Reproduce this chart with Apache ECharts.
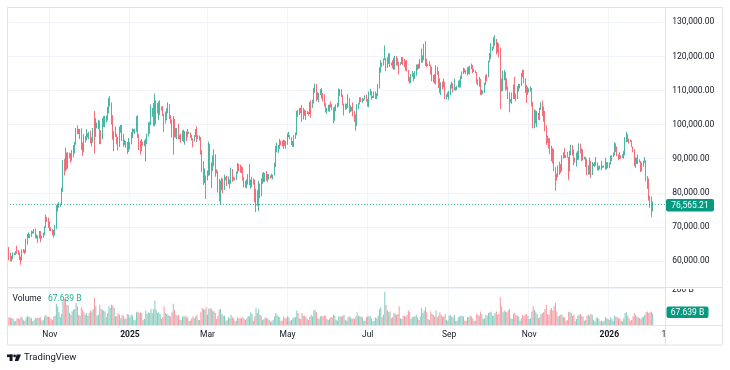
<!DOCTYPE html>
<html><head><meta charset="utf-8">
<script src="https://cdn.jsdelivr.net/npm/echarts@6/dist/echarts.min.js"></script>
<style>html,body{margin:0;padding:0;background:#fff}#c{width:730px;height:370px}</style>
</head><body><div id="c"></div>
<script>
// ---- data (prices in thousands USD, volume in billions) ----
const FIRST_DAY = '2024-09-30';
const FIRST_OPEN_K = 65.6;
const FUTURE_DAYS = 9;
const closeK = [
63.3,
60.8,60.6,60.8,62.1,62.1,62.8,62.2,62.1,60.6,60.3,62.5,63.2,62.9,66.0,67.0,67.6,67.4,68.4,68.4,69.0,67.4,67.4,66.7,68.2,66.6,67.0,67.9,69.9,72.7,72.3,70.2,
69.5,69.3,68.7,67.8,69.4,75.6,76.0,76.5,76.7,80.4,88.7,88.0,90.5,87.3,91.1,90.6,89.8,90.5,92.3,94.3,98.9,98.4,97.8,98.0,93.0,91.9,95.9,95.6,97.5,96.4,
97.2,95.8,96.0,98.8,97.0,99.9,99.9,101.2,97.4,96.7,101.2,100.0,101.4,101.4,104.3,106.0,106.1,100.1,97.5,97.7,97.2,95.1,94.7,98.7,99.4,95.8,94.2,95.1,93.7,92.7,93.4,
94.4,96.9,98.1,98.2,98.3,102.1,96.9,95.0,92.5,94.7,94.5,94.5,94.5,96.5,100.5,99.9,104.1,104.4,101.1,102.0,106.1,103.7,103.9,104.8,104.7,102.6,102.1,101.3,103.7,104.7,102.4,
100.6,97.7,101.4,97.9,96.6,96.6,96.5,96.5,96.1,97.4,95.8,97.9,96.6,97.5,97.6,96.2,95.8,95.5,96.6,98.3,96.1,96.6,96.3,91.5,88.7,84.3,84.7,84.4,
86.0,94.3,86.1,87.2,90.6,89.9,86.7,86.2,80.7,78.5,82.9,83.7,81.0,84.0,84.3,82.6,84.0,82.7,86.8,84.2,84.1,83.8,86.1,87.5,87.4,86.9,87.2,84.4,82.6,82.3,82.5,
85.2,82.5,83.1,83.8,83.5,78.2,79.2,76.3,82.6,79.6,83.4,85.3,83.7,84.5,83.6,84.0,84.9,84.5,85.0,85.1,87.5,93.4,93.7,93.9,94.7,94.6,93.7,95.0,94.3,94.2,
96.5,96.9,95.9,94.3,94.7,96.8,97.0,103.2,102.9,104.6,104.1,102.8,104.1,103.5,103.7,103.5,103.2,106.5,105.6,106.8,109.6,111.7,107.3,107.8,109.0,109.4,108.9,107.8,105.6,103.9,104.6,
105.7,105.8,105.4,104.7,101.6,104.3,105.6,105.7,110.3,110.3,108.7,105.9,106.1,105.4,105.6,106.8,104.6,104.9,104.7,103.3,102.1,100.9,105.6,106.0,107.3,106.9,107.1,107.3,108.4,107.1,
105.7,108.8,109.6,108.0,108.2,109.2,108.3,108.9,111.3,115.9,117.5,117.4,119.1,119.8,117.7,118.7,119.3,117.9,117.9,117.3,117.4,120.0,118.8,118.4,117.6,117.9,119.4,118.0,117.8,117.8,115.7,
113.3,112.5,114.2,115.0,114.1,115.0,117.5,116.7,116.5,119.3,118.7,120.2,123.3,118.4,117.4,117.5,117.4,116.3,112.9,114.3,112.5,116.9,115.4,113.5,110.1,111.8,111.3,112.6,108.4,108.8,108.2,
109.2,111.2,111.7,110.7,110.7,110.2,111.1,112.0,111.5,113.9,115.5,116.1,115.9,115.3,115.4,116.8,116.5,117.1,115.7,115.7,115.2,112.7,112.0,113.3,109.0,109.7,109.7,112.1,114.4,114.0,
118.6,120.6,122.3,122.4,123.5,124.8,121.4,123.3,121.7,113.2,110.7,115.2,115.3,113.0,110.8,108.2,106.5,107.2,108.6,110.6,108.5,107.6,110.1,111.0,111.6,114.5,114.1,112.9,110.0,108.3,109.6,
110.1,110.6,106.5,101.5,103.9,101.3,103.4,102.3,104.7,106.0,103.0,101.6,99.7,94.5,95.6,94.2,92.2,92.9,91.5,86.6,85.1,84.7,86.8,88.3,87.4,90.5,91.3,90.9,90.8,90.4,
86.3,91.3,93.5,92.1,89.4,89.3,90.4,90.6,92.7,92.0,92.5,90.3,90.3,88.2,86.4,87.8,86.2,85.5,88.1,88.3,88.6,88.6,87.5,87.6,87.2,87.3,87.8,87.8,87.1,88.4,87.5,
88.7,89.9,90.6,91.4,93.9,93.7,91.3,91.0,90.6,90.5,90.8,91.2,95.4,97.0,95.6,95.5,95.1,93.6,92.6,88.3,89.4,89.6,89.5,89.2,86.6,88.3,89.2,89.3,84.6,84.1,78.7,
77.6,74.9,76.56521
];
const highK = [
65.7,
64.1,62.4,61.5,62.5,62.4,62.9,64.5,63.2,62.5,61.3,63.4,63.5,63.3,66.5,67.9,68.4,67.9,68.9,68.7,69.4,69.5,67.8,67.5,68.8,68.8,67.4,68.3,70.2,73.6,72.9,72.7,
71.6,69.9,69.4,69.1,70.5,76.4,76.9,77.2,76.9,81.5,89.6,89.9,93.3,91.8,91.9,91.8,91.6,92.6,94.0,94.9,99.0,99.8,98.8,98.7,98.9,94.7,97.2,96.6,98.7,97.5,
97.9,98.2,96.3,99.0,104.0,101.9,100.6,101.4,101.2,98.3,101.9,102.5,102.6,102.6,105.2,107.8,108.3,106.5,102.8,98.1,99.5,97.3,96.4,99.4,99.9,99.9,97.3,95.6,95.2,94.9,96.1,
94.9,97.8,98.9,98.7,98.8,102.5,102.7,97.2,95.3,95.8,95.0,95.4,95.9,97.4,100.7,100.8,105.9,104.9,106.3,109.1,107.1,106.3,106.8,107.1,105.3,105.5,103.2,103.8,104.8,106.5,106.0,
102.8,101.5,102.5,101.7,99.0,99.0,100.2,96.9,97.3,98.3,98.5,98.1,98.0,98.7,97.9,97.7,97.0,96.0,96.9,98.7,99.5,96.9,96.8,96.4,92.5,89.3,87.1,85.1,
86.5,95.0,94.4,88.9,91.0,92.8,91.3,86.9,86.5,84.1,83.6,84.4,84.2,85.3,84.7,85.0,84.8,83.9,87.4,87.0,84.7,84.5,86.2,88.7,88.5,88.3,87.8,87.5,84.6,83.5,84.0,
85.5,88.5,83.9,84.7,84.2,83.8,81.2,80.8,83.5,82.7,84.2,85.8,86.1,85.8,86.4,85.5,85.5,85.1,85.6,85.3,88.8,93.8,94.7,94.0,95.8,95.3,95.3,95.6,95.4,95.2,
97.4,97.9,96.9,96.3,95.2,96.9,97.7,104.0,104.3,104.9,104.9,105.8,104.9,104.4,104.1,104.0,103.7,106.6,107.1,107.3,110.8,112.0,111.9,109.5,109.3,110.4,110.7,109.3,108.9,106.3,104.9,
105.8,105.9,106.8,106.0,105.0,105.3,105.9,106.4,110.6,110.4,110.4,108.8,106.2,106.2,106.1,108.9,107.8,105.6,105.2,106.5,104.0,103.0,106.0,106.3,108.0,108.0,107.8,107.6,108.6,108.8,
107.5,109.7,110.5,109.8,108.4,109.7,109.7,109.2,111.9,116.8,118.9,118.2,119.4,123.2,119.5,119.8,120.9,120.9,118.2,118.9,119.6,120.2,120.1,119.5,118.4,118.3,119.8,119.8,119.3,118.8,118.9,
116.0,114.0,114.8,115.7,115.1,115.7,117.6,117.7,117.9,119.3,122.3,120.3,123.7,124.5,119.3,117.9,118.6,117.6,117.0,114.6,114.8,117.4,117.0,115.7,113.6,112.4,112.6,113.5,112.6,108.9,109.5,
109.9,111.8,112.6,112.2,113.4,111.0,111.3,112.9,113.2,114.3,115.6,116.7,116.4,116.0,116.8,117.0,117.3,117.9,117.5,116.3,115.9,115.4,113.3,114.0,113.4,110.3,110.0,112.3,114.5,114.8,
118.7,121.0,123.9,122.8,125.6,126.2,125.1,124.2,123.8,122.6,113.5,115.8,116.0,115.4,113.6,111.2,109.5,107.5,109.4,111.7,114.0,109.1,111.3,112.0,111.9,115.2,116.1,116.0,113.6,111.6,111.1,
110.6,111.2,110.8,106.6,104.5,104.2,104.0,103.4,105.0,106.6,107.0,105.3,104.0,99.8,96.8,96.0,96.0,93.8,93.1,92.8,87.5,85.6,88.0,89.1,88.4,91.0,91.9,93.1,91.1,92.0,
90.5,92.3,94.1,94.0,92.7,90.3,91.8,92.3,94.5,94.4,93.0,92.7,90.6,90.5,90.0,88.1,90.3,89.4,89.0,88.6,89.0,90.5,88.9,87.9,88.0,89.4,87.9,88.0,90.3,89.0,89.0,
88.9,90.9,91.0,91.8,94.8,94.5,93.6,91.3,91.9,91.0,91.3,92.3,96.3,97.9,97.2,95.9,95.6,95.4,93.6,92.8,90.4,90.3,91.2,89.8,89.3,88.9,89.4,90.5,89.5,84.9,84.2,
79.2,78.9,77.5
];
const lowK = [
62.9,
60.2,59.9,59.8,60.5,61.7,61.8,62.1,61.8,60.3,58.9,60.1,62.4,62.0,62.4,64.8,66.7,66.7,67.1,68.0,68.1,66.6,66.6,65.3,66.6,65.5,66.6,66.8,67.5,69.7,71.4,69.7,
68.8,68.8,67.5,66.8,67.5,69.4,74.5,75.6,75.9,76.5,80.2,85.1,86.3,86.7,87.1,90.1,88.8,89.4,90.4,91.5,94.1,97.2,97.2,95.8,92.6,90.8,91.9,94.7,95.4,96.2,
95.7,94.5,93.6,94.7,91.5,96.4,98.9,98.7,94.2,94.3,95.7,99.3,99.2,100.6,101.2,103.3,105.3,100.0,95.6,92.2,96.4,94.2,92.4,93.4,97.6,95.2,93.5,94.0,93.2,91.4,92.0,
92.8,94.2,96.1,97.7,97.3,97.9,96.1,92.5,91.2,92.2,93.8,93.7,89.2,94.3,96.5,97.3,99.9,102.3,99.6,99.5,100.1,103.3,101.3,102.8,104.1,102.5,97.8,100.3,101.3,103.3,101.6,
100.3,96.2,91.2,96.2,96.2,95.7,95.7,95.7,94.7,95.2,94.9,94.1,95.2,96.3,97.2,96.1,95.3,93.4,95.0,96.4,94.9,95.8,95.3,91.2,86.1,82.3,82.8,78.2,
83.7,85.0,85.1,81.4,86.4,87.8,84.7,85.7,80.1,77.5,76.6,80.8,79.9,80.8,83.7,82.0,82.5,81.2,82.6,83.2,83.6,83.7,83.8,85.6,86.3,85.9,85.8,83.6,81.6,81.5,81.3,
82.4,82.3,81.2,81.7,82.4,77.2,74.4,76.2,74.6,78.4,79.0,82.6,83.1,83.2,83.6,83.1,83.9,84.1,84.4,83.9,85.1,87.5,91.9,91.7,92.9,93.9,93.6,92.9,93.8,92.9,
94.1,96.3,95.7,94.0,93.5,93.4,95.8,96.9,102.3,102.8,103.3,100.8,101.5,102.6,101.4,103.1,102.6,103.1,102.0,104.9,106.2,109.3,106.8,107.3,106.6,108.7,107.6,106.8,105.3,103.6,103.1,
103.9,103.7,105.0,104.2,100.4,101.1,103.9,105.0,105.3,108.4,108.1,105.7,102.7,104.3,104.5,104.9,103.4,103.6,103.9,102.4,100.8,98.2,99.6,104.6,105.9,106.6,106.4,106.9,107.3,106.7,
105.3,105.1,108.6,107.3,107.8,107.8,107.5,107.5,108.3,110.6,115.2,116.9,117.3,118.9,115.7,116.6,117.8,116.9,117.3,116.5,116.1,116.1,117.3,117.3,114.7,117.4,117.8,117.4,116.9,115.8,115.6,
112.7,112.0,112.2,114.0,112.7,113.4,114.3,115.9,116.3,116.5,118.1,118.2,118.9,117.2,116.8,117.2,117.2,114.7,112.7,112.4,112.0,111.7,114.6,110.7,109.3,108.7,110.3,110.9,107.5,107.4,108.1,
107.3,108.6,110.6,109.4,110.0,110.0,110.1,110.9,110.8,110.9,113.4,114.8,115.3,114.8,114.4,114.8,114.7,116.2,115.1,115.4,115.0,112.0,111.5,111.1,108.7,108.6,109.0,109.3,111.6,112.7,
113.9,118.3,119.3,121.6,122.2,123.1,120.6,121.1,119.7,104.6,109.7,109.8,113.0,110.0,110.2,107.5,103.6,106.4,106.1,107.5,107.5,106.8,107.5,109.7,110.6,111.3,113.9,112.1,109.3,106.3,108.7,
109.4,109.7,105.3,98.9,98.9,100.3,99.3,101.4,101.3,104.3,102.5,100.8,98.0,94.0,94.6,93.0,91.3,89.3,88.6,86.3,80.6,83.6,84.6,85.3,85.8,86.3,90.1,90.2,90.2,90.3,
83.8,86.2,91.0,90.9,88.1,88.9,87.7,89.6,89.7,91.6,89.3,89.5,89.8,87.6,85.2,85.3,85.3,84.4,85.2,87.9,87.6,87.9,86.6,86.5,86.9,86.6,87.3,87.4,86.8,86.8,87.2,
87.2,88.3,89.3,90.5,91.0,92.0,90.7,89.5,89.9,90.0,90.2,90.0,91.0,94.8,94.9,94.4,94.9,93.4,91.9,87.8,87.3,88.5,88.4,88.9,86.1,86.3,87.6,88.8,83.4,81.1,77.7,
75.6,72.8,74.5
];
const volumeB = [
40,
45,42,40,38,22,24,40,38,36,48,44,28,25,45,52,50,44,40,22,28,42,40,44,42,46,26,28,50,60,50,48,
45,35,30,50,55,125,110,75,45,65,140,155,165,120,115,70,60,80,90,95,130,110,60,55,105,90,75,60,70,55,
70,85,80,95,160,110,55,60,120,95,90,85,80,45,70,110,100,120,115,100,50,55,70,60,40,60,55,35,38,65,60,
45,60,55,30,28,75,80,70,75,70,30,35,85,65,75,70,95,70,95,145,90,70,75,65,35,45,110,70,65,60,55,
50,75,125,90,60,55,60,30,30,50,50,55,45,45,25,25,40,50,40,50,60,30,30,75,100,95,90,105,
60,95,100,95,85,80,70,35,55,90,95,65,55,55,25,30,45,40,60,45,40,20,25,45,40,40,40,45,35,30,40,
55,50,75,65,25,50,100,70,95,60,55,30,35,45,40,40,30,20,20,30,50,70,60,50,45,25,25,50,40,40,
50,45,25,30,40,45,45,85,70,40,35,70,55,55,50,35,30,50,60,50,85,90,75,40,35,50,55,50,55,55,35,
30,40,45,45,60,55,30,25,50,50,50,55,60,30,25,45,50,45,35,40,35,50,75,55,50,50,45,25,25,45,
50,55,50,40,20,25,45,40,55,95,105,45,60,195,120,85,75,80,40,45,70,65,60,65,110,40,35,55,55,50,60,
85,75,35,45,50,50,60,45,30,50,100,70,85,105,75,35,30,80,65,60,50,85,45,55,75,60,50,50,65,30,25,
55,60,50,45,60,25,25,45,50,55,55,50,25,25,45,45,55,50,40,25,25,65,60,55,80,65,35,40,60,55,
70,75,80,55,55,70,80,60,65,165,110,75,85,80,75,85,95,40,35,65,70,60,55,50,25,40,60,55,60,65,55,
35,40,80,110,90,75,65,40,45,65,70,75,95,120,65,60,90,100,85,110,130,80,50,55,60,60,45,45,25,30,
75,80,70,55,60,25,35,55,60,65,55,50,25,30,55,60,55,65,60,30,20,40,45,35,20,25,20,25,45,40,35,
30,45,35,25,55,50,45,40,40,25,20,40,70,75,55,40,25,30,50,70,60,50,45,40,35,45,50,60,75,80,70,
75,80,67.639
];
const MONTH_NAMES = ['Jan','Feb','Mar','Apr','May','Jun','Jul','Aug','Sep','Oct','Nov','Dec'];
const VOLUME_TOP_LABEL = '200 B';
const CUT_TIME_LABEL = '1';

// ---- build ----
const UP = '#089981', DOWN = '#F23645';
const UP_VOL = 'rgba(8,153,129,0.5)', DOWN_VOL = 'rgba(242,54,69,0.5)';
const FONT = 'Roboto, "Noto Sans", sans-serif';
const n = closeK.length;
const t0 = Date.parse(FIRST_DAY + 'T00:00:00Z');
const dates = [];
for (let i = 0; i < n + FUTURE_DAYS; i++) dates.push(new Date(t0 + i * 86400000).toISOString().slice(0, 10));
const candles = [], vols = [];
for (let i = 0; i < n; i++) {
  const o = i ? closeK[i - 1] : FIRST_OPEN_K;
  candles.push([o * 1000, closeK[i] * 1000, lowK[i] * 1000, highK[i] * 1000]);
  vols.push({ value: volumeB[i], itemStyle: { color: closeK[i] >= o ? UP_VOL : DOWN_VOL } });
}
const lastClose = closeK[n - 1] * 1000;
const lastVol = volumeB[n - 1];
const fmtPrice = v => v.toLocaleString('en-US', { minimumFractionDigits: 2, maximumFractionDigits: 2 });
const isMark = v => { const p = v.split('-'); return p[2] === '01' && (parseInt(p[1], 10) - 1) % 2 === 0; };
const markLabel = v => { const p = v.split('-'); const m = parseInt(p[1], 10) - 1; return m === 0 ? '{y|' + p[0] + '}' : '{m|' + MONTH_NAMES[m] + '}'; };

const bw = 1.3134;
const L = 7.14, W = (n + FUTURE_DAYS) * bw;
const chart = echarts.init(document.getElementById('c'), null, { renderer: 'canvas' });
const border = '#e0e3eb', gridC = '#f0f3fa', txt = '#131722';
chart.setOption({
  animation: false,
  backgroundColor: '#ffffff',
  grid: [
    { left: L, top: 7, width: W, height: 281 },
    { left: L, top: 288, width: W, height: 37 }
  ],
  xAxis: [
    { type: 'category', gridIndex: 0, data: dates, boundaryGap: true,
      axisLine: { show: false }, axisTick: { show: false }, axisLabel: { show: false },
      splitLine: { show: true, interval: (i, v) => isMark(v), lineStyle: { color: gridC, width: 1 } } },
    { type: 'category', gridIndex: 1, data: dates, boundaryGap: true,
      axisLine: { show: false }, axisTick: { show: false },
      splitLine: { show: true, interval: (i, v) => isMark(v), lineStyle: { color: gridC, width: 1 } },
      axisLabel: { show: true, interval: (i, v) => isMark(v), formatter: markLabel, margin: 5,
        rich: { m: { fontFamily: FONT, fontSize: 8.5, color: txt }, y: { fontFamily: FONT, fontSize: 8.5, color: txt, fontWeight: 'bold' } } } }
  ],
  yAxis: [
    { type: 'value', gridIndex: 0, position: 'right', min: 52080, max: 134490, splitNumber: 8, scale: true,
      axisLine: { show: false }, axisTick: { show: false },
      axisLabel: { show: true, margin: 7, showMinLabel: false, showMaxLabel: false, formatter: fmtPrice,
        fontFamily: FONT, fontSize: 8.5, color: txt },
      splitLine: { show: true, lineStyle: { color: gridC, width: 1 } } },
    { type: 'value', gridIndex: 1, min: 0, max: 218, show: false, splitLine: { show: false } }
  ],
  series: [
    { type: 'candlestick', xAxisIndex: 0, yAxisIndex: 0, data: candles, barWidth: 0.3,
      itemStyle: { color: UP, color0: DOWN, borderColor: UP, borderColor0: DOWN, borderWidth: 1, opacity: 0.72 },
      markLine: { silent: true, symbol: ['none', 'none'], label: { show: false },
        lineStyle: { color: UP, type: [1, 2], width: 1, opacity: 0.8 },
        data: [{ yAxis: lastClose }] } },
    { type: 'bar', xAxisIndex: 1, yAxisIndex: 1, data: vols, barWidth: '75%' }
  ],
  graphic: [
    { type: 'text', z: 10, left: 672, top: 285.5, style: { text: VOLUME_TOP_LABEL, font: '8.5px ' + FONT, fill: txt } },
    { type: 'rect', z: 11, shape: { x: 666, y: 276, width: 56, height: 13 }, style: { fill: '#fff' } },
    { type: 'rect', z: 20, shape: { x: 7.5, y: 7.5, width: 715, height: 337.5 }, style: { fill: null, stroke: border, lineWidth: 1 } },
    { type: 'line', z: 20, shape: { x1: 665.5, y1: 7.5, x2: 665.5, y2: 345 }, style: { stroke: border, lineWidth: 1 } },
    { type: 'line', z: 20, shape: { x1: 7.5, y1: 287.5, x2: 722.5, y2: 287.5 }, style: { stroke: border, lineWidth: 1 } },
    { type: 'line', z: 20, shape: { x1: 7.5, y1: 325.5, x2: 722.5, y2: 325.5 }, style: { stroke: border, lineWidth: 1 } },
    { type: 'rect', z: 21, shape: { x: 666, y: 199, width: 48, height: 12.5, r: 2 }, style: { fill: UP } },
    { type: 'text', z: 22, x: 690, y: 205.5, style: { text: fmtPrice(lastClose), font: '8.5px ' + FONT, fill: '#fff', align: 'center', verticalAlign: 'middle' } },
    { type: 'rect', z: 21, shape: { x: 666.5, y: 306.5, width: 42, height: 11.5, r: 2 }, style: { fill: UP } },
    { type: 'text', z: 22, x: 687.5, y: 312.5, style: { text: lastVol.toFixed(3) + ' B', font: '8.5px ' + FONT, fill: '#fff', align: 'center', verticalAlign: 'middle' } },
    { type: 'text', z: 22, x: 12.5, y: 299, style: { text: '{a|Volume}  {b|' + lastVol.toFixed(3) + ' B}', verticalAlign: 'middle',
      rich: { a: { fontFamily: FONT, fontSize: 8.5, fill: txt, color: txt }, b: { fontFamily: FONT, fontSize: 8.5, fill: '#22ab94', color: '#22ab94' } } } },
    { type: 'text', z: 19, x: 661.5, y: 335, style: { text: CUT_TIME_LABEL, font: '8.5px ' + FONT, fill: txt, verticalAlign: 'middle' } },
    { type: 'rect', z: 22, shape: { x: 7, y: 354.5, width: 5.5, height: 2.6 }, style: { fill: txt } },
    { type: 'rect', z: 22, shape: { x: 9.6, y: 354.5, width: 2.9, height: 6.5 }, style: { fill: txt } },
    { type: 'circle', z: 22, shape: { cx: 14.6, cy: 355.9, r: 1.4 }, style: { fill: txt } },
    { type: 'polygon', z: 22, shape: { points: [[16.6, 354.5], [21, 354.5], [18.3, 361], [14.8, 361]] }, style: { fill: txt } },
    { type: 'text', z: 22, x: 24, y: 357.5, style: { text: 'TradingView', font: '9.5px ' + FONT, fill: txt, verticalAlign: 'middle' } }
  ]
});
</script></body></html>
